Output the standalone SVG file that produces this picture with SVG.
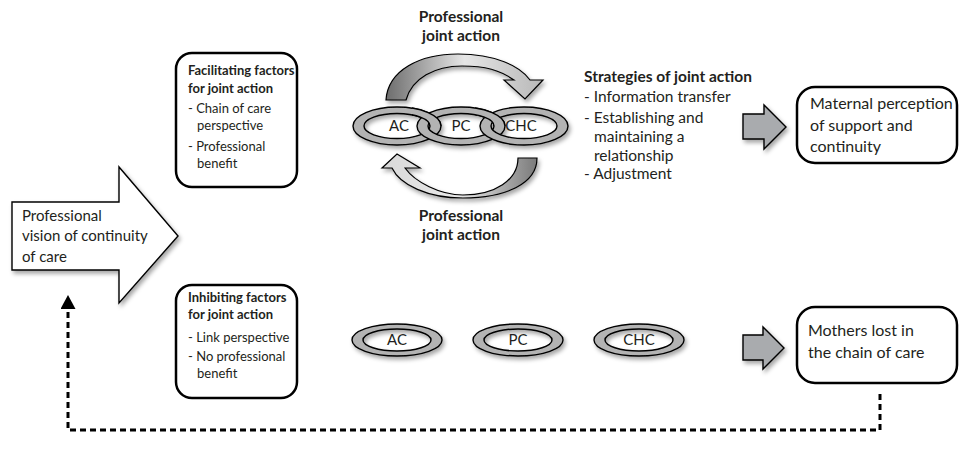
<svg xmlns="http://www.w3.org/2000/svg" width="966" height="459" viewBox="0 0 966 459">
<style>
text{font-family:Lato,"Liberation Sans",sans-serif;font-size:15.5px;fill:#231f20}
.b{font-weight:bold}
.s{font-size:13px}
.m{font-size:16px}
.v{font-size:15px}
.box{fill:#fff;stroke:#000;stroke-width:2.5}
.ring{fill:#b3b3b3;stroke:#000;stroke-width:1.4;fill-rule:evenodd}
.garrow{fill:#a9abae;stroke:#000;stroke-width:1.4}
.lbl{font-size:15px;text-anchor:middle}
</style>
<defs>
<filter id="sh" x="-20%" y="-20%" width="150%" height="160%">
<feDropShadow dx="2" dy="3" stdDeviation="2" flood-color="#000" flood-opacity="0.35"/>
</filter>
<linearGradient id="gTop" x1="0" y1="0" x2="1" y2="0">
<stop offset="0" stop-color="#6d6d6d"/>
<stop offset="0.5" stop-color="#e6e6e6"/>
<stop offset="1" stop-color="#b8b8b8"/>
</linearGradient>
<linearGradient id="gBot" x1="0" y1="0" x2="1" y2="0">
<stop offset="0" stop-color="#d9d9d9"/>
<stop offset="0.5" stop-color="#e9e9e9"/>
<stop offset="1" stop-color="#7a7a7a"/>
</linearGradient>
<path id="r1" d="M-44,0 a44,19 0 1,0 88,0 a44,19 0 1,0 -88,0 Z M-33,0 a33,12.5 0 1,0 66,0 a33,12.5 0 1,0 -66,0 Z"/>
<path id="r2" d="M-45,0 a45,16 0 1,0 90,0 a45,16 0 1,0 -90,0 Z M-34,0 a34,11 0 1,0 68,0 a34,11 0 1,0 -68,0 Z"/>
<clipPath id="c1"><rect x="412" y="100" width="36" height="26"/></clipPath>
<clipPath id="c2"><rect x="475" y="100" width="36" height="26"/></clipPath>
<marker id="ah" markerUnits="userSpaceOnUse" markerWidth="14" markerHeight="15" refX="2" refY="7.5" orient="auto" viewBox="0 0 14 15">
<path d="M0,0 L14,7.5 L0,15 Z" fill="#000"/>
</marker>
</defs>

<g id="vision">
<path d="M12,202 H119 V167 L178,236 L119,303 V270 H12 Z" fill="#fff" stroke="#000" stroke-width="1.4" filter="url(#sh)"/>
<text class="v" x="22" y="221">Professional</text>
<text class="v" x="22" y="241">vision of continuity</text>
<text class="v" x="22" y="262">of care</text>
</g>

<g id="facilitating">
<rect class="box" x="176" y="53" width="121" height="134" rx="16"/>
<text class="b s" x="188" y="75">Facilitating factors</text>
<text class="b s" x="188" y="93">for joint action</text>
<text class="s" x="188" y="113">- Chain of care</text>
<text class="s" x="197" y="130">perspective</text>
<text class="s" x="188" y="151">- Professional</text>
<text class="s" x="197" y="168">benefit</text>
</g>

<g id="inhibiting">
<rect class="box" x="176" y="285" width="121" height="113" rx="16"/>
<text class="b s" x="188" y="302">Inhibiting factors</text>
<text class="b s" x="188" y="319">for joint action</text>
<text class="s" x="188" y="342">- Link perspective</text>
<text class="s" x="188" y="361">- No professional</text>
<text class="s" x="197" y="378">benefit</text>
</g>

<g id="chain-linked" filter="url(#sh)">
<use href="#r1" class="ring" x="397" y="126"/>
<use href="#r1" class="ring" x="461" y="126"/>
<use href="#r1" class="ring" x="524" y="126"/>
<g clip-path="url(#c1)"><use href="#r1" class="ring" x="397" y="126"/></g>
<g clip-path="url(#c2)"><use href="#r1" class="ring" x="461" y="126"/></g>
</g>
<g id="chain-linked-labels">
<text class="lbl" x="399" y="131">AC</text>
<text class="lbl" x="461" y="131">PC</text>
<text class="lbl" x="521" y="131">CHC</text>
</g>

<g id="chain-separate" filter="url(#sh)">
<use href="#r2" class="ring" x="397" y="340"/>
<use href="#r2" class="ring" x="518" y="340"/>
<use href="#r2" class="ring" x="639" y="340"/>
</g>
<g id="chain-separate-labels">
<text class="lbl" x="397" y="345">AC</text>
<text class="lbl" x="518" y="345">PC</text>
<text class="lbl" x="639" y="345">CHC</text>
</g>

<g id="label-top">
<text class="b" x="461" y="22" text-anchor="middle">Professional</text>
<text class="b" x="461" y="41" text-anchor="middle">joint action</text>
</g>
<g id="label-bottom">
<text class="b" x="461" y="221" text-anchor="middle">Professional</text>
<text class="b" x="461" y="240" text-anchor="middle">joint action</text>
</g>

<g id="strategies">
<text class="b" x="584" y="82">Strategies of joint action</text>
<text x="584" y="102">- Information transfer</text>
<text x="584" y="123">- Establishing and</text>
<text x="594" y="142">maintaining a</text>
<text x="594" y="161">relationship</text>
<text x="584" y="179">- Adjustment</text>
</g>

<g id="maternal">
<rect class="box" x="797" y="87" width="160" height="76" rx="18"/>
<text class="m" x="810" y="109">Maternal perception</text>
<text class="m" x="810" y="131">of support and</text>
<text class="m" x="810" y="152">continuity</text>
</g>

<g id="mothers">
<rect class="box" x="797" y="307" width="160" height="76" rx="18"/>
<text class="m" x="808" y="336">Mothers lost in</text>
<text class="m" x="808" y="358">the chain of care</text>
</g>

<g id="connectors">
<path d="M386,100 C388,70 420,54 458,54 C495,54 520,66 530,80 L543,80 L525,99 L504,80 L514,80 C500,70 485,66 462,66 C435,66 412,78 406,100 Z" fill="url(#gTop)" stroke="#000" stroke-width="1.2" filter="url(#sh)"/>
<path d="M537,158 C537,184 505,198 463,198 C428,198 400,185 392,168 L382,168 L397,154 L420,168 L405,168 C415,182 440,195 463,195 C495,195 518,180 518,158 Z" fill="url(#gBot)" stroke="#000" stroke-width="1.2" filter="url(#sh)"/>
<path class="garrow" d="M743,114 H764 V105 L786,127 L764,149 V139 H743 Z" filter="url(#sh)"/>
<path class="garrow" d="M743,335 H763 V327 L784,348 L763,369 V360 H743 Z" filter="url(#sh)"/>
<path d="M880,394 V430 H68 V307" fill="none" stroke="#000" stroke-width="3" stroke-dasharray="6 4" marker-end="url(#ah)"/>
</g>
</svg>
